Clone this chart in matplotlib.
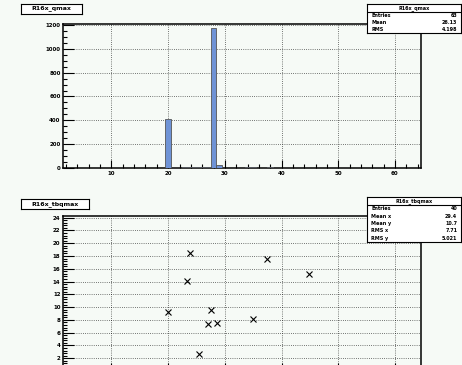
#!/usr/bin/env python3

import numpy as np
import matplotlib.pyplot as plt
from matplotlib.ticker import MultipleLocator, FuncFormatter

# top histogram: bin centres and contents
qmax_bins = [20, 23, 24, 25, 26, 27, 28, 29, 34, 35, 38, 44, 45]
qmax_counts = [410, 12, 12, 12, 10, 15, 1170, 25, 10, 10, 8, 6, 6]
qmax_stats = [("Entries", "63"), ("Mean", "26.13"), ("RMS", "4.198")]

# bottom scatter
tb_x = [20.0, 23.8, 23.3, 27.6, 27.0, 28.7, 25.4, 35.0, 37.4, 44.8]
tb_y = [9.3, 18.4, 14.1, 9.6, 7.4, 7.5, 2.6, 8.2, 17.6, 15.1]
tb_stats = [("Entries", "40"), ("Mean x", "29.4"), ("Mean y", "10.7"),
            ("RMS x", "7.71"), ("RMS y", "5.021")]

W, H = 462, 365
bg = "#f6faf6"
fig = plt.figure(figsize=(W / 100, H / 100), dpi=100, facecolor=bg)


def frac(x0, y0, x1, y1):
    return [x0 / W, 1 - y1 / H, (x1 - x0) / W, (y1 - y0) / H]


def style(ax, xmaj, xmin, ymaj, ymin):
    ax.set_facecolor(bg)
    ax.xaxis.set_major_locator(MultipleLocator(xmaj))
    ax.xaxis.set_minor_locator(MultipleLocator(xmin))
    ax.yaxis.set_major_locator(MultipleLocator(ymaj))
    ax.yaxis.set_minor_locator(MultipleLocator(ymin))
    ax.tick_params(which="both", direction="in", labelsize=4, pad=2, width=0.8)
    ax.tick_params(which="major", length=6)
    ax.tick_params(which="minor", length=3)
    ax.tick_params(axis="y", which="major", length=8)
    ax.grid(True, which="major", color="black", lw=0.6, ls=(0, (1, 1.6)), alpha=0.7)
    for s in ax.spines.values():
        s.set_linewidth(1.1)
    for lab in ax.get_xticklabels() + ax.get_yticklabels():
        lab.set_fontweight("bold")


def title_box(x0, y0, x1, y1, text):
    a = fig.add_axes(frac(x0, y0, x1, y1))
    a.set_xticks([]); a.set_yticks([])
    a.set_facecolor("white")
    a.text(0.5, 0.5, text, ha="center", va="center", fontsize=4.5, fontweight="bold")


def stats_box(x0, y0, x1, y1, sep, name, rows):
    a = fig.add_axes(frac(x0, y0, x1, y1))
    a.set_xticks([]); a.set_yticks([])
    a.set_facecolor("white")
    a.set_xlim(0, 1); a.set_ylim(y1, y0)
    for s in a.spines.values():
        s.set_linewidth(0.8)
    a.axhline(sep, color="black", lw=0.8)
    a.text(0.5, (y0 + sep) / 2, name, ha="center", va="center", fontsize=3.5, fontweight="bold")
    step = (y1 - sep) / len(rows)
    for i, (k, v) in enumerate(rows):
        yy = sep + step * (i + 0.5)
        a.text(0.05, yy, k, ha="left", va="center", fontsize=3.5, fontweight="bold")
        a.text(0.96, yy, v, ha="right", va="center", fontsize=3.5, fontweight="bold")


# top pad
ax1 = fig.add_axes(frac(63.3, 23.5, 421, 168.3))
ax1.bar(qmax_bins, qmax_counts, width=1.0, color="#6f93d6", edgecolor="#555555", linewidth=0.6, zorder=3)
ax1.set_xlim(1.5, 64.6)
ax1.set_ylim(0, 1210)
style(ax1, 10, 2, 200, 50)
title_box(21, 3.5, 82, 13.5, "R16x_qmax")
stats_box(366.7, 4, 461, 33, 11.5, "R16x_qmax", qmax_stats)

# bottom pad (its x labels and the 0 fall below the visible canvas)
ax2 = fig.add_axes(frac(63.3, 215.7, 421, 371))
ax2.plot(tb_x, tb_y, ls="none", marker="x", color="black", markersize=4.5, mew=0.8, zorder=3)
ax2.set_xlim(1.5, 64.6)
ax2.set_ylim(0, 24.3)
style(ax2, 10, 2, 2, 0.4)
ax2.tick_params(axis="x", labelbottom=False)
ax2.yaxis.set_major_formatter(FuncFormatter(lambda v, p: "" if v < 1 else "%d" % v))
for lab in ax2.get_yticklabels():
    lab.set_fontweight("bold")
title_box(21, 199, 89, 209, "R16x_tbqmax")
stats_box(366.7, 196.7, 461, 241.7, 205, "R16x_tbqmax", tb_stats)

plt.savefig("out.png", dpi=100, facecolor=bg)
